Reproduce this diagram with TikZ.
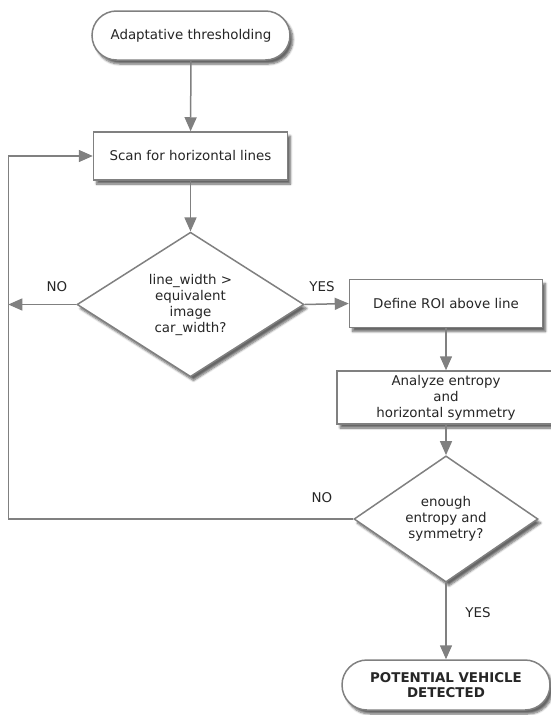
\documentclass[tikz,border=0pt]{standalone}
\usepackage{fontspec}
\setmainfont{DejaVu Sans}
\usetikzlibrary{arrows.meta,shapes.geometric,shapes.misc,shadows.blur}
\definecolor{linegray}{HTML}{808080}
\definecolor{textgray}{HTML}{262626}
\begin{document}
\begin{tikzpicture}[x=1pt,y=-1pt,
  font=\fontsize{13.4}{16}\selectfont, text=textgray,
  shade/.style={blur shadow={shadow xshift=3pt,shadow yshift=-4pt,shadow blur steps=6,shadow opacity=60}},
  termbox/.style={rounded rectangle,draw=linegray,line width=1.5pt,fill=white,shade,inner sep=0pt,align=center},
  procbox/.style={rectangle,draw=linegray,line width=1.5pt,fill=white,shade,inner sep=0pt,align=center},
  decbox/.style={diamond,draw=linegray,line width=1.5pt,fill=white,shade,inner sep=0pt,align=center},
  flow/.style={draw=linegray,line width=1.5pt,-{Triangle[length=14pt,width=12pt]}},
  lbl/.style={inner sep=0pt}]
\path[use as bounding box] (0,0) rectangle (551,715);
\node[termbox,minimum width=198pt,minimum height=49pt] (start) at (191,35.5) {Adaptative thresholding};
\node[procbox,minimum width=194pt,minimum height=48pt] (scan) at (190.5,156) {Scan for horizontal lines};
\node[decbox,minimum width=227pt,minimum height=139pt] (dec1) at (190.5,304.5) {line\_width >\\equivalent\\image\\car\_width?};
\node[procbox,minimum width=193pt,minimum height=48pt] (roi) at (446,303.5) {Define ROI above line};
\node[procbox,minimum width=218pt,minimum height=53pt] (analyze) at (446,397.5) {Analyze entropy\\and\\horizontal symmetry};
\node[decbox,minimum width=184pt,minimum height=106pt] (dec2) at (446,519) {enough\\entropy and\\symmetry?};
\node[termbox,minimum width=208pt,minimum height=50pt,font=\fontsize{13.4}{15.5}\selectfont\bfseries] (stop) at (446,685) {POTENTIAL VEHICLE\\DETECTED};
% free ends of the loop
\coordinate (nohit) at (8.3,304.5);
\coordinate (loop) at (8.3,519);
\draw[flow] (start) -- (scan);
\draw[flow] (scan) -- (dec1);
\draw[flow] (dec1.west) -- (nohit);
\draw[flow] (dec1.east) -- (roi.west);
\draw[flow] (roi) -- (analyze);
\draw[flow] (analyze) -- (dec2);
\draw[flow] (dec2.south) -- (stop.north);
\draw[flow] (dec2.west) -- (loop) |- (scan.west);
\node[lbl] (no1) at (57,287) {NO};
\node[lbl] (yes1) at (322,287) {YES};
\node[lbl] (no2) at (322,498) {NO};
\node[lbl] (yes2) at (478,613) {YES};
\end{tikzpicture}
\end{document}
